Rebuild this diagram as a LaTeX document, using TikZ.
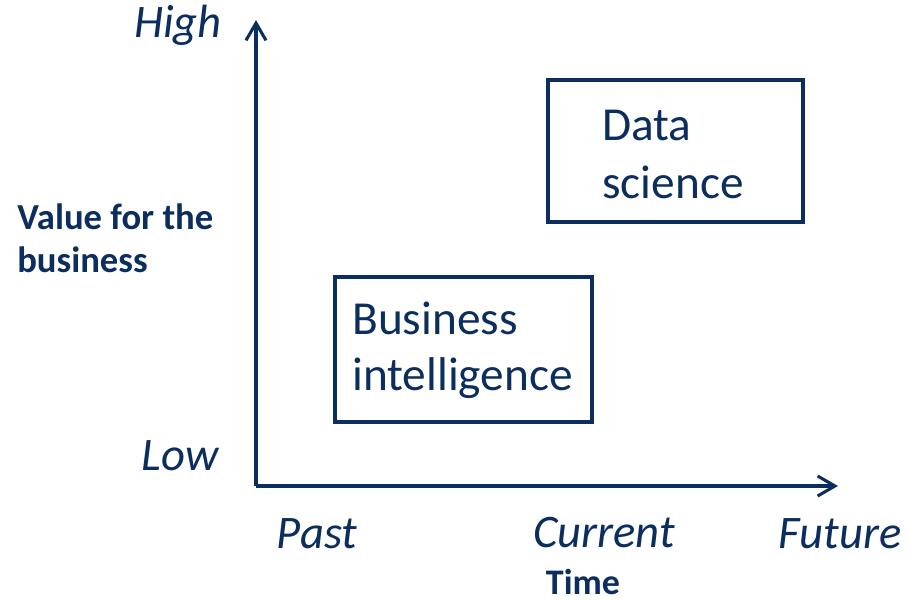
\documentclass[tikz,border=0pt]{standalone}
\usepackage{fontspec}
\setmainfont{Carlito}
\usetikzlibrary{arrows.meta}
\definecolor{navy}{RGB}{12,46,94}
\tikzset{
  axis/.style={draw=navy, line width=2.3pt, -{Straight Barb[length=13pt,width=15pt,line width=2.3pt]}},
  boxed/.style={draw=navy, line width=3.6pt, rectangle, inner sep=0pt},
  bigtxt/.style={text=navy, inner sep=0pt, font=\fontsize{35.5}{42}\selectfont},
  ital/.style={text=navy, inner sep=0pt, anchor=base, font=\fontsize{35}{42}\selectfont\itshape},
  boldtxt/.style={text=navy, inner sep=0pt, font=\fontsize{27.5}{33}\selectfont\bfseries},
}
\begin{document}
\begin{tikzpicture}[x=0.75pt, y=-0.75pt]
\useasboundingbox (0,0) rectangle (907,600);
% axes
\coordinate (O) at (256,486);
\coordinate (ytop) at (256,20);
\coordinate (xend) at (838,486);
\draw[axis] (O) -- (ytop);
\draw[axis] (O) -- (xend);
% boxes
\node[boxed, minimum width=257*0.75pt, minimum height=145*0.75pt] (bi) at (463.5,349.5) {};
\node[boxed, minimum width=255*0.75pt, minimum height=142*0.75pt] (ds) at (675.5,151) {};
% box texts
\node[bigtxt, anchor=base west] (bi1) at (352,334) {Business};
\node[bigtxt, anchor=base west] (bi2) at (352,390) {intelligence};
\node[bigtxt, anchor=base west] (ds1) at (602,140) {Data};
\node[bigtxt, anchor=base west] (ds2) at (602,198) {science};
% axis labels
\node[ital] (high) at (178,37) {High};
\node[ital] (low) at (180,470) {Low};
\node[ital] (past) at (317,548) {Past};
\node[ital] (current) at (604,547) {Current};
\node[ital] (future) at (840,548) {Future};
\node[boldtxt, anchor=base west] (val1) at (17,229) {Value for the};
\node[boldtxt, anchor=base west] (val2) at (17,272) {business};
\node[boldtxt, anchor=base, font=\fontsize{27}{32}\selectfont\bfseries] (time) at (583,594) {Time};
\end{tikzpicture}
\end{document}
